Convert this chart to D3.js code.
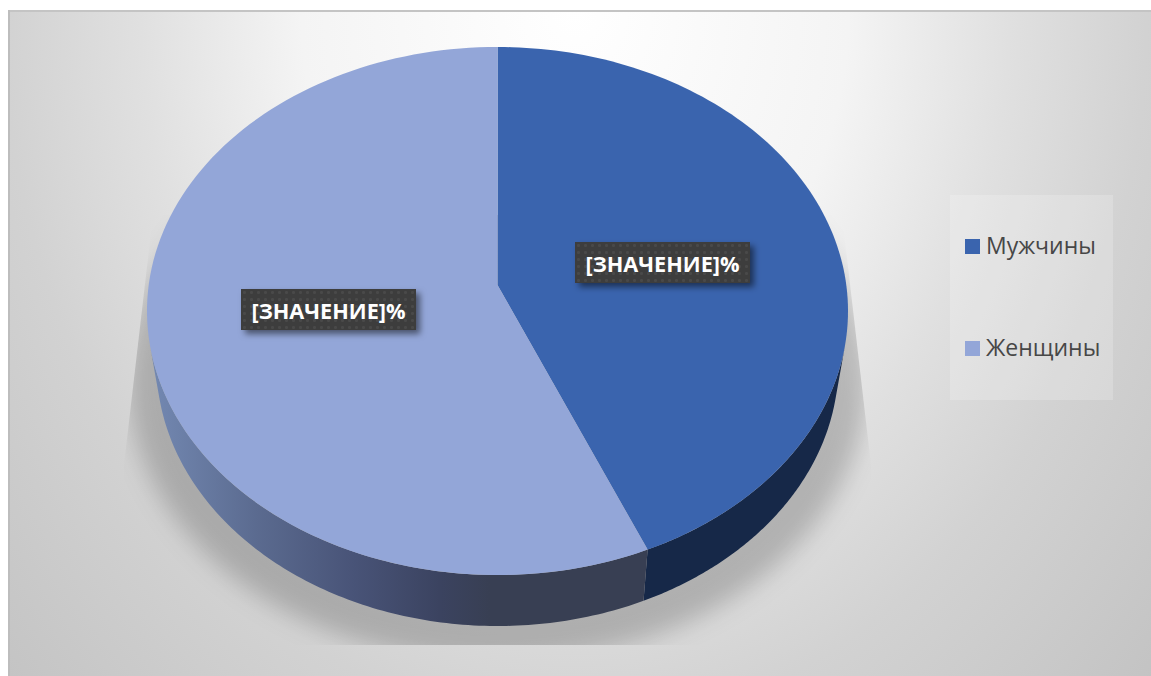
<!DOCTYPE html>
<html>
<head>
<meta charset="utf-8">
<style>
  html, body { margin: 0; padding: 0; background: #fff; overflow: hidden; }
  svg { display: block; }
</style>
<script src="https://cdn.jsdelivr.net/npm/d3@7/dist/d3.min.js"></script>
</head>
<body>
<div id="chart"></div>
<script>
const categories = ['Мужчины', 'Женщины'];
const shares = [43.6, 56.4];
const labelText = '[ЗНАЧЕНИЕ]%';

const width = 1151, height = 676;
const colors = d3.scaleOrdinal().domain(categories).range(['#3a64ae', '#93a6d8']);
const wallColors = d3.scaleOrdinal().domain(categories).range(['#162848', 'url(#wallLight)']);

const svg = d3.select('#chart').append('svg')
  .attr('width', width)
  .attr('height', height);
const defs = svg.append('defs');

// background, white at the top centre and grey towards the corners
const bg = defs.append('radialGradient')
  .attr('id', 'bg')
  .attr('gradientUnits', 'userSpaceOnUse')
  .attr('cx', 0).attr('cy', 0).attr('r', 1.4)
  .attr('gradientTransform', 'translate(575,10) scale(575,720)');
[[0, '#ffffff'], [0.34, '#f4f4f4'], [0.54, '#e0e0e0'], [0.71, '#d2d2d2'], [1, '#c2c2c2']].forEach(s => {
  bg.append('stop').attr('offset', s[0]).attr('stop-color', s[1]);
});

const wallLight = defs.append('linearGradient')
  .attr('id', 'wallLight')
  .attr('gradientUnits', 'userSpaceOnUse')
  .attr('x1', 155).attr('x2', 490).attr('y1', 0).attr('y2', 0);
[[0, '#7287b0'], [0.3, '#5b6b90'], [0.6, '#485377'], [0.85, '#3b4360'], [1, '#383f53']].forEach(s => {
  wallLight.append('stop').attr('offset', s[0]).attr('stop-color', s[1]);
});

defs.append('filter').attr('id', 'blur')
  .attr('x', '-10%').attr('y', '-10%').attr('width', '120%').attr('height', '120%')
  .append('feGaussianBlur').attr('stdDeviation', 12);

const drop = defs.append('filter').attr('id', 'labelShadow')
  .attr('x', '-10%').attr('y', '-30%').attr('width', '125%').attr('height', '170%');
drop.append('feDropShadow')
  .attr('dx', 4).attr('dy', 4).attr('stdDeviation', 3)
  .attr('flood-color', '#000').attr('flood-opacity', 0.5);

const dots = defs.append('pattern').attr('id', 'dots')
  .attr('patternUnits', 'userSpaceOnUse')
  .attr('width', 7).attr('height', 7);
dots.append('rect').attr('width', 7).attr('height', 7).attr('fill', '#3e3e3e');
dots.append('circle').attr('cx', 3.5).attr('cy', 3.5).attr('r', 1.5).attr('fill', '#4a4a4a');

defs.append('clipPath').attr('id', 'shadowClip')
  .append('polygon')
  .attr('points', '153,215 842,215 871,465 871,645 124,645 124,465');

svg.append('rect')
  .attr('x', 8).attr('y', 10)
  .attr('width', width - 8).attr('height', height - 10)
  .attr('fill', 'url(#bg)');
svg.append('rect').attr('x', 8).attr('y', 10).attr('width', width - 8).attr('height', 2).attr('fill', '#c4c4c4');
svg.append('rect').attr('x', 8).attr('y', 10).attr('width', 2).attr('height', height - 10).attr('fill', '#bdbdbd');

// tilted disc: a unit circle in perspective, the centre sits above the ellipse middle
const cx = 497.5;
const persp = { x: 348.8, y: 233.4, apex: 285, k: -0.0985 };
const topFace = { cy: 311, rx: 350.5, ry: 264 };
const bottomFace = { cy: 364, rx: 341, ry: 262 };

const onTop = a => {
  const u = Math.sin(a), v = -Math.cos(a), w = 1 + persp.k * v;
  return [cx + persp.x * u / w, (persp.y * v + persp.apex) / w];
};
const onBottom = a => {
  const p = onTop(a);
  return [cx + (p[0] - cx) * bottomFace.rx / topFace.rx, bottomFace.cy + (p[1] - topFace.cy) * bottomFace.ry / topFace.ry];
};
const sweep = (a0, a1, f) => d3.range(0, 121).map(i => f(a0 + (a1 - a0) * i / 120));
const line = d3.line();

const pieData = d3.pie().sort(null)(shares).map((d, i) => ({ ...d, name: categories[i] }));

// edges of the visible side wall
const wallFrom = 103 * Math.PI / 180, wallTo = 257 * Math.PI / 180;

// shadow under the disc
svg.append('g').attr('clip-path', 'url(#shadowClip)')
  .append('ellipse')
  .attr('cx', cx).attr('cy', 380)
  .attr('rx', 369).attr('ry', 282)
  .attr('fill', '#000').attr('fill-opacity', 0.2)
  .attr('filter', 'url(#blur)');

// side wall
svg.append('g').selectAll('path')
  .data(pieData)
  .join('path')
  .attr('d', d => {
    const a0 = Math.max(d.startAngle, wallFrom), a1 = Math.min(d.endAngle, wallTo);
    return line([...sweep(a0, a1, onTop), ...sweep(a1, a0, onBottom)]) + 'Z';
  })
  .attr('fill', d => wallColors(d.name));

// top face
svg.append('g').selectAll('path')
  .data(pieData)
  .join('path')
  .attr('d', d => line([[cx, persp.apex], ...sweep(d.startAngle, d.endAngle, onTop)]) + 'Z')
  .attr('fill', d => colors(d.name));

// data labels
const labelBoxes = [
  { x: 575, y: 242, w: 175, h: 41 },
  { x: 241, y: 289, w: 175, h: 41 }
];
const labels = svg.append('g').selectAll('g')
  .data(labelBoxes)
  .join('g')
  .attr('transform', d => `translate(${d.x},${d.y})`);
labels.append('rect')
  .attr('width', d => d.w)
  .attr('height', d => d.h)
  .attr('fill', 'url(#dots)')
  .attr('filter', 'url(#labelShadow)');
labels.append('text')
  .attr('x', d => d.w / 2)
  .attr('y', 29.5)
  .attr('text-anchor', 'middle')
  .attr('font-family', '"Open Sans", "Noto Sans", sans-serif')
  .attr('font-weight', 700)
  .attr('font-size', 21.7)
  .attr('fill', '#fff')
  .text(labelText);

// legend
const legend = svg.append('g');
legend.append('rect')
  .attr('x', 950).attr('y', 195)
  .attr('width', 163).attr('height', 205)
  .attr('fill', '#fff').attr('fill-opacity', 0.2);
const legendY = d3.scalePoint().domain(categories).range([246.5, 348.5]);
const items = legend.selectAll('g.item')
  .data(categories)
  .join('g')
  .attr('class', 'item')
  .attr('transform', d => `translate(965,${legendY(d)})`);
items.append('rect')
  .attr('y', -7.5)
  .attr('width', 15)
  .attr('height', 15)
  .attr('fill', d => colors(d));
items.append('text')
  .attr('x', 21)
  .attr('y', 7.5)
  .attr('font-family', '"Open Sans", "Noto Sans", sans-serif')
  .attr('font-size', 23)
  .attr('fill', '#474747')
  .text(d => d);
</script>
</body>
</html>
